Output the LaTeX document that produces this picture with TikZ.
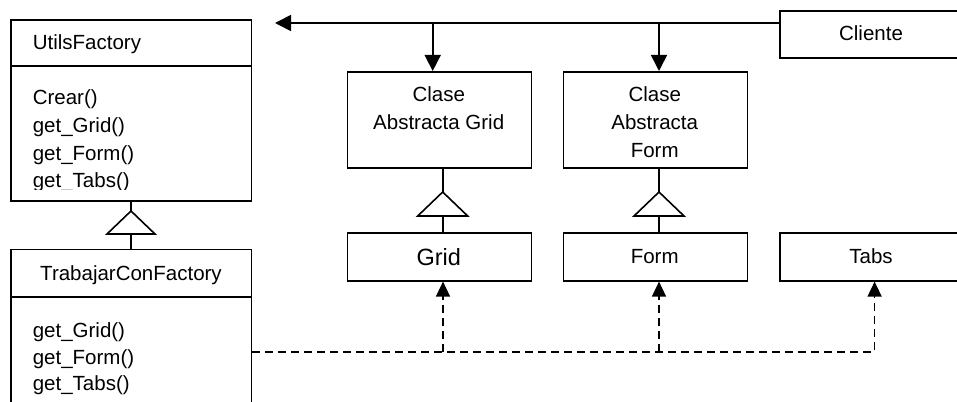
\documentclass[tikz,border=0pt]{standalone}
\usepackage{fontspec}
\setmainfont{Liberation Sans}
\usetikzlibrary{arrows.meta}
\begin{document}
\begin{tikzpicture}[x=1pt,y=-1pt, line width=1.6pt,
  box/.style={draw, rectangle, inner sep=0pt, anchor=north west},
  txt/.style={inner sep=0pt, font=\fontsize{20.5}{24}\selectfont},
  bigtxt/.style={inner sep=0pt, font=\fontsize{23.5}{28}\selectfont},
  solidarrow/.style={-{Triangle[length=16pt,width=16pt]}},
  dashline/.style={dash pattern=on 8pt off 5pt},
  dasharrow/.style={dashline, -{Triangle[length=15pt,width=14pt]}},
  inherit/.style={fill=white, line join=miter},
]
\useasboundingbox (0,0) rectangle (957,401);
\clip (0,0) rectangle (957,401);

% class boxes
\node[box, minimum width=240.7pt, minimum height=181pt] (uf) at (10,19) {};
\draw (10,66) -- (250.7,66);
\node[box, minimum width=240.7pt, minimum height=200pt] (tcf) at (10,248.7) {};
\draw (10,297) -- (250.7,297);

\node[box, minimum width=184pt, minimum height=47pt] (cliente) at (779,10) {};
\node[box, minimum width=184pt, minimum height=96pt] (cag) at (346.7,71) {};
\node[box, minimum width=184pt, minimum height=96pt] (caf) at (562.7,71) {};
\node[box, minimum width=184pt, minimum height=48pt] (grid) at (346.7,232) {};
\node[box, minimum width=184pt, minimum height=48pt] (form) at (562.7,232) {};
\node[box, minimum width=184pt, minimum height=48pt] (tabs) at (779,232) {};

% texts
\node[txt, anchor=base west] (ufname) at (32,49.5) {UtilsFactory};
\begin{scope}
  \clip (10,66) rectangle (250.7,189.5);
  \node[txt, anchor=base west] (uf1) at (32,105) {Crear()};
  \node[txt, anchor=base west] (uf2) at (32,132.5) {get\_Grid()};
  \node[txt, anchor=base west] (uf3) at (32,160) {get\_Form()};
  \node[txt, anchor=base west] (uf4) at (32,187.5) {get\_Tabs()};
\end{scope}
\node[txt, anchor=base] (tcfname) at (131,280) {TrabajarConFactory};
\node[txt, anchor=base west] (tcf1) at (32,337) {get\_Grid()};
\node[txt, anchor=base west] (tcf2) at (32,364) {get\_Form()};
\node[txt, anchor=base west] (tcf3) at (32,390.5) {get\_Tabs()};

\node[txt, anchor=base] (clname) at (871,40.5) {Cliente};
\node[txt, anchor=base] (cag1) at (438.7,101.5) {Clase};
\node[txt, anchor=base] (cag2) at (438.7,129) {Abstracta Grid};
\node[txt, anchor=base] (caf1) at (654.7,101.5) {Clase};
\node[txt, anchor=base] (caf2) at (654.7,129) {Abstracta};
\node[txt, anchor=base] (caf3) at (654.7,157) {Form};
\node[bigtxt, anchor=base] (gridname) at (438.7,265) {Grid};
\node[txt, anchor=base] (formname) at (654.7,263.5) {Form};
\node[txt, anchor=base] (tabsname) at (871,263.5) {Tabs};

% client access line
\coordinate (clout) at (779,23);
\coordinate (leftend) at (275,23);
\draw[solidarrow] (clout) -- (leftend);
\draw[solidarrow] (432.7,23) -- (432.7,0 |- cag.north);
\draw[solidarrow] (659,23) -- (659,0 |- caf.north);

% generalisation
\draw (131,0 |- tcf.north) -- (131,0 |- uf.south);
\draw[inherit] (131,211) -- (155,234) -- (107,234) -- cycle;
\draw (442.7,0 |- grid.north) -- (442.7,0 |- cag.south);
\draw[inherit] (442.7,192) -- (467.7,216) -- (417.7,216) -- cycle;
\draw (659,0 |- form.north) -- (659,0 |- caf.south);
\draw[inherit] (659,192) -- (684,216) -- (634,216) -- cycle;

% creation dependencies
\draw[dasharrow] (tcf.east |- 0,352) -| (874.6,0 |- tabs.south);
\draw[dasharrow] (443,352) -- (443,0 |- grid.south);
\draw[dasharrow] (659,352) -- (659,0 |- form.south);
\end{tikzpicture}
\end{document}
